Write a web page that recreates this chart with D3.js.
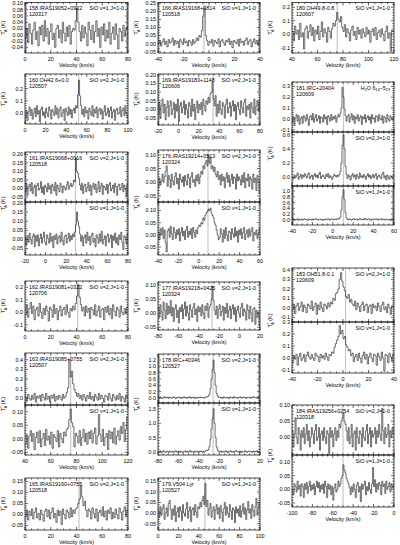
<!DOCTYPE html>
<html>
<head><meta charset="utf-8"></head>
<body style="margin:0;background:#fff">
<svg width="400" height="545"></svg>
</body>
<style>
    text { font-family: "Liberation Sans", Arial, sans-serif; fill: #000; }
</style>

<script src="https://d3js.org/d3.v7.min.js"></script>
<script>
    // spectra, antenna temperature in mK, one value per channel
    var spec158 = [-10,20,-25,35,5,-30,15,40,-15,10, -35,25,0,30,-20,45,-5,20,-30,10, 35,-15,5,-40,20,30,-10,15,-25,40, 5,-20,25,-5,30,-30,10,20,15,45, 85,40,10,-20,30,-10,25,5,-35,40, 15,-15,30,-25,10,45,-5,20,-40,25, 0,35,-20,15,-10,40,-30,5,25,-15, 35,0,-45,20,10,-20,30,-5,15,25];
    var spec160 = [-40,20,-60,10,50,-20,30,-50,0,40, -30,60,-10,20,-70,30,50,-20,10,-40, 40,0,-30,50,20,-50,30,10,-20,60, -10,40,-40,20,50,-30,0,30,-60,40, 10,-20,50,-10,30,-40,20,40,0,60, 40,150,270,140,60,-10,30,-30,50,0, 20,-50,40,10,-20,60,-30,30,0,50, -40,20,40,-10,30,-50,10,60,-20,0, 40,-30,20,50,-40,10,30,-60,20,40, -10,0,50,-30,20,40,-20,60,0,-40];
    var spec161a = [-20,30,-40,10,25,-15,35,-30,5,20, -45,15,30,-10,0,40,-25,10,-35,20, 5,-20,30,-5,15,-30,25,10,-15,35, -40,20,0,-20,30,10,-25,15,5,-10, 20,40,-5,15,30,10,20,50,40,180, 100,90,60,20,-10,30,-30,15,25,-20, 5,35,-15,20,-40,10,30,-5,25,-25, 0,40,-20,10,30,-35,15,5,-10,25, -30,20,35,-15,0,20,-25,30,10,-40, 15,25,-10,5,30,-20,20,-5,-45,25];
    var spec161b = [10,-30,20,-15,35,0,-25,15,30,-40, 20,-10,25,-35,5,30,-20,10,40,-15, -30,25,5,-20,35,-10,15,-45,20,0, 30,-25,10,20,-15,40,-5,-30,15,25, -20,5,35,-10,20,0,30,15,40,80, 150,100,70,30,-10,20,-35,10,25,-20, 40,-5,15,-30,20,35,-15,5,-40,25, 10,-20,30,-10,45,-25,0,20,-35,15, 30,-15,5,25,-45,20,-5,35,-20,10, -30,25,0,40,-15,-55,20,10,-25,30];
    var spec162 = [-20,60,-40,30,80,-10,50,-60,20,40, -30,70,0,-50,30,-20,50,10,-70,40, 20,-40,60,-10,30,-60,10,50,-30,20, 40,-20,60,0,-40,30,10,50,20,70, 130,220,120,60,10,40,-30,50,0,30, -50,40,20,-20,60,-30,10,50,-40,20, 30,-60,40,0,50,-20,30,-50,60,10, -30,40,20,-40,50,0,-20,30,-10,40];
    var spec163a = [10,-30,40,0,-20,30,-10,50,-40,20, 0,30,-30,40,10,-20,50,-10,20,-40, 30,0,40,-30,20,-10,30,10,-20,40, 0,20,60,110,400,220,280,150,90,60, 20,50,0,30,-20,40,10,-30,30,0, 60,-10,20,-30,40,10,-20,50,-10,30, 0,-40,30,20,-20,50,0,-30,40,10, -20,30,-10,50,-30,20,0,-40,30,10];
    var spec163b = [-20,15,-35,10,30,-10,20,-40,5,25, -15,30,-30,0,20,-25,35,-5,10,-20, 25,-35,15,5,-10,30,-30,20,0,-15, 25,10,35,40,70,110,60,45,-30,20, 10,-15,30,-25,5,35,-10,20,-20,25, 0,30,-15,20,40,-20,10,90,15,-10, 35,-25,5,20,-40,30,0,25,-15,40, -20,10,30,-5,45,20,60,-10,35,80];
    var spec165 = [-10,20,-25,15,-5,25,-20,10,30,-15, 5,-25,20,0,-30,15,25,-10,20,-20, 10,30,-15,5,-35,20,-5,15,-45,25, 0,-20,20,10,-15,30,-10,20,5,25, 30,50,70,130,80,40,60,20,-10,25, 15,-20,30,5,-15,25,-30,10,20,-5, 35,-10,15,-25,20,5,30,-20,10,-15, 25,0,-20,30,10,-25,15,35,-10,20];
    var spec166 = [0,20,-15,10,30,-5,15,-20,25,5, 10,35,-10,20,0,15,-25,25,10,-5, 30,5,15,-15,20,10,-10,25,0,15, 35,20,50,40,80,170,220,50,20,-10, 15,5,25,-15,20,10,0,30,-20,15, 25,5,-10,20,10,30,-5,15,-25,20, 10,0,25,-15,30,5,15,-10,20,35, -5,15,25,-20,10,30,0,20,-10,25];
    var spec169 = [-30,40,-50,20,60,-20,30,-60,10,50, -40,20,50,-30,0,40,-50,30,-10,60, -70,20,40,-20,10,50,-30,30,0,-50, 40,20,-40,60,-10,30,-60,10,50,-20, 30,0,40,-30,60,20,-10,50,30,70, 40,90,100,160,60,20,80,-40,30,-20, 50,0,-30,40,20,-50,30,60,-20,10, 40,-40,20,50,-10,30,-60,20,40,0, -30,50,10,-20,40,60,-40,20,0,30, -50,40,10,-20,60,-30,20,50,-10,40];
    var spec176a = [-20,15,-10,5,30,0,20,40,60,-15, 25,10,-20,30,5,-10,20,35,-5,15, -25,30,10,0,20,-15,25,5,-10,30, 15,-20,20,35,0,10,-15,25,5,30, -5,20,40,30,60,50,70,80,60,100, 70,90,50,60,40,55,30,20,40,10, 25,-10,30,5,20,-20,15,35,0,25, -15,10,30,-5,20,15,-25,30,5,20, 10,-10,25,0,35,-20,15,5,30,-15, 20,10,-25,30,0,15,-30,25,5,-40];
    var spec176b = [10,-20,25,0,30,-15,20,-30,-70,15, 25,-10,35,5,-20,30,10,-15,20,0, 25,-25,10,30,-5,15,-20,20,35,-10, 15,0,25,-15,30,10,-10,20,5,30, 40,35,50,45,70,60,80,90,95,105, 100,110,90,80,70,50,40,20,0,-20, -10,25,5,-30,20,-15,30,0,-25,15, 10,-20,25,5,-10,30,-5,15,-30,20, 0,25,-15,10,30,-20,5,20,-10,25, -5,15,30,-25,10,0,20,-15,5,25];
    var spec177 = [20,-15,30,5,-25,40,10,-20,35,-5, 25,0,45,-10,20,-30,15,30,-15,10, -35,20,5,30,-20,15,40,-10,25,0, -25,30,10,-15,20,35,-5,15,-30,25, 5,20,-10,30,0,-20,25,10,35,-15, 20,30,50,95,45,10,-5,25,-20,15, 30,-10,5,25,-25,20,0,35,-15,10, 25,-20,15,30,-5,20,-30,10,25,0, -15,20,35,-10,15,5,-25,30,10,-20, 25,0,-30,15,20,-40,10,-15,5,-45];
    var spec178a = [20,-10,30,0,-20,15,40,-5,10,25, -15,30,5,-10,20,35,0,-25,15,10, 30,-5,20,-20,10,40,0,15,-15,25, 5,35,-10,20,0,30,-20,10,25,-5, 15,30,0,20,10,-10,25,35,30,60, 120,300,600,900,1200,800,400,150,60,20, 30,0,20,-15,35,10,-5,25,15,-20, 30,5,20,-10,40,0,15,25,-15,10, 35,-5,20,0,30,15,-20,25,10,5, 30,-10,20,40,0,15,25,-15,35,10];
    var spec178b = [30,0,40,-20,20,50,10,-10,30,20, -20,40,10,0,30,-10,20,50,0,10, 40,-10,30,10,-20,20,40,0,30,-10, 20,50,0,30,10,-20,40,20,0,30, 10,40,20,-10,30,0,40,60,50,90, 200,450,800,1150,1500,1000,500,180,70,30, 20,40,-10,30,10,0,50,20,-20,30, 10,40,0,20,-10,30,50,10,20,0, 40,-20,30,10,0,50,20,-10,30,40, 10,20,-10,40,0,30,20,50,-10,20];
    var spec179 = [10,-20,30,-10,20,40,-30,0,25,-15, 45,60,15,-30,20,-10,35,-40,5,25, -20,30,10,-35,40,0,-15,20,50,-25, 10,30,-40,15,25,-10,40,5,-20,30, 20,50,30,60,80,40,140,30,60,-10, 20,45,-20,10,30,-30,15,40,-5,25, -25,35,5,-40,20,50,-10,30,0,-20, 40,10,-30,25,15,-45,30,0,20,-15, 35,-20,10,45,-5,25,-30,15,55,0, 20,-25,40,10,-15,30,70,-10,25,50];
    var spec180 = [20,-50,60,0,30,-40,80,-20,10,-110, 40,60,-30,20,70,-10,50,-50,30,0, 60,-40,20,90,-20,40,10,-60,50,20, -30,40,80,60,100,160,110,90,130,50, 20,70,-20,40,10,-50,30,60,-10,20, -40,50,0,30,-30,40,10,-20,50,0, 30,-60,20,40,-10,50,-40,10,30,-20, 40,0,-50,20,60,-30,10,-130,30,20];
    var spec181a = [-30,20,-60,10,40,-20,30,-50,0,20, -40,30,10,-20,40,0,-60,20,30,-10, 50,-30,10,40,-20,0,30,-40,20,10, -30,40,0,20,-50,30,10,-20,40,-10, 20,0,30,-30,10,40,20,50,100,290, 200,90,30,-20,20,40,-30,10,50,-10, 30,-40,20,0,40,-20,10,30,-50,20, 0,40,-30,10,30,-10,20,-40,40,0, 10,-30,30,20,-20,40,0,-10,30,-40, 20,10,-30,40,0,-20,30,10,-10,20];
    var spec181b = [0,-20,30,-10,20,60,-30,10,40,-20, 30,0,50,20,-10,40,60,-20,10,30, -30,20,50,0,30,-10,40,70,-20,10, 30,0,-20,40,10,50,-10,20,0,-30, 10,40,20,0,30,10,40,80,200,450, 600,400,150,40,-20,30,10,-40,20,50, 0,30,-30,40,10,-20,60,0,20,-10, 40,10,-30,20,50,0,30,-20,10,40, -10,20,50,-30,10,30,0,-20,40,70, -10,20,-40,30,0,-30,20,10,-20,30];
    var spec181c = [20,0,30,-10,10,40,-20,20,0,30, -10,20,40,0,10,-20,30,10,20,-10, 30,0,20,40,10,-10,20,30,0,20, -20,10,30,0,20,40,10,-10,30,20, 0,30,20,10,40,20,50,100,350,800, 1050,700,250,60,20,0,30,10,-10,20, 40,0,20,30,-10,10,40,20,0,30, 10,50,20,0,30,40,10,-20,20,30, 0,20,40,10,-10,30,20,0,40,10, 20,-10,30,10,0,20,-20,30,10,0];
    var spec183a = [-20,40,-60,20,50,-30,10,60,-40,30, 0,-50,40,20,-10,70,-30,10,50,-70, 30,-20,60,0,-40,40,20,-10,50,10, 60,40,100,80,150,160,200,300,370,280, 220,180,120,100,140,60,90,40,20,70, -20,50,10,-40,30,60,-30,20,40,-50, 10,30,-60,40,0,20,-30,50,10,-40, 30,60,-20,10,-50,40,0,-70,20,10];
    var spec183b = [-40,20,-10,30,-60,10,40,-20,0,30, -30,20,50,10,-10,30,0,-20,40,20, 10,-30,30,0,20,-10,40,10,-20,30, 20,50,40,90,120,150,180,270,200,230, 160,180,110,90,60,70,20,40,-30,10, 30,-20,40,0,-40,20,50,-10,30,-50, 10,40,0,-30,30,20,-60,40,10,-20, 50,0,-110,30,20,-40,40,10,-30,30];
    var spec184a = [20,-30,10,60,0,-20,30,10,-40,20, 0,30,-20,10,40,-10,20,-30,0,30, 10,-20,20,40,-10,0,30,-40,10,20, -10,30,0,-20,20,10,-50,30,0,20, -30,10,30,-10,20,0,40,30,50,60, 75,50,40,20,-10,30,-20,0,40,-30, 10,20,-40,30,0,-20,20,10,-30,30, 0,-10,20,40,-20,10,30,-30,20,0, 10,30,-20,20,0,40,10,-10,90,20, -20,30,0,10,40,-30,20,0,30,10];
    var spec184b = [0,-20,20,10,-10,30,0,15,-25,20, 10,-30,20,0,25,-15,10,30,-5,15, 0,20,-20,10,30,5,25,-10,15,0, 20,-15,30,10,-30,20,0,15,-20,10, -40,5,20,-10,0,30,10,20,40,50, 90,70,60,40,30,20,5,-20,10,-10, 20,0,-30,15,25,-10,10,-45,20,0, 15,30,-20,10,-5,25,0,-15,20,80, 10,35,-10,20,0,25,15,-20,30,10, 20,-15,30,0,10,25,-10,20,5,15];

    var cols = [{left: 25, right: 128}, {left: 158, right: 260}, {left: 292, right: 394}];

    var groups = [
        {col: 0, x: [0, 80], xt: [0, 20, 40, 60, 80], vline: 40, subs: [
            {top: 2.5, bot: 53, y: [-0.058, 0.103], yt: [-0.04, -0.02, 0, 0.02, 0.04, 0.06, 0.08, 0.10], fmt: ".2f", data: spec158,
             name: "158.IRAS19052+0922", date: "120317", line: "SiO v=1,J=1-0"}]},
        {col: 0, x: [0, 100], xt: [0, 20, 40, 60, 80, 100], vline: 52, subs: [
            {top: 74, bot: 124, y: [-0.09, 0.32], yt: [0, 0.1, 0.2], fmt: ".1f", data: spec160,
             name: "160.OH42.6+0.0", date: "120507", line: "SiO v=2,J=1-0"}]},
        {col: 0, x: [-20, 80], xt: [-20, 0, 20, 40, 60, 80], vline: 29, subs: [
            {top: 152, bot: 202, y: [-0.08, 0.215], yt: [-0.05, 0, 0.05, 0.10, 0.15, 0.20], fmt: ".2f", data: spec161a,
             name: "161.IRAS19068+0016", date: "120518", line: "SiO v=2,J=1-0"},
            {top: 202, bot: 255, y: [-0.085, 0.205], yt: [-0.05, 0, 0.05, 0.10, 0.15, 0.20], fmt: ".2f", data: spec161b,
             line: "SiO v=1,J=1-0"}]},
        {col: 0, x: [0, 80], xt: [0, 20, 40, 60, 80], vline: 41, subs: [
            {top: 281, bot: 331, y: [-0.15, 0.25], yt: [-0.1, 0, 0.1, 0.2], fmt: ".1f", data: spec162,
             name: "162.IRAS19081+0322", date: "120706", line: "SiO v=2,J=1-0"}]},
        {col: 0, x: [40, 120], xt: [40, 60, 80, 100, 120], vline: 75.5, subs: [
            {top: 353, bot: 405, y: [-0.07, 0.47], yt: [0, 0.1, 0.2, 0.3, 0.4], fmt: ".1f", data: spec163a,
             name: "163.IRAS19085+0755", date: "120507", line: "SiO v=2,J=1-0"},
            {top: 405, bot: 455, y: [-0.06, 0.125], yt: [-0.05, 0, 0.05, 0.10], fmt: ".2f", data: spec163b,
             line: "SiO v=1,J=1-0"}]},
        {col: 0, x: [0, 80], xt: [0, 20, 40, 60, 80], vline: 42, subs: [
            {top: 478, bot: 530, y: [-0.07, 0.165], yt: [-0.05, 0, 0.05, 0.10, 0.15], fmt: ".2f", data: spec165,
             name: "165.IRAS19160+0755", date: "120518", line: "SiO v=2,J=1-0"}]},

        {col: 1, x: [-40, 40], xt: [-40, -20, 0, 20, 40], vline: -4, subs: [
            {top: 2.5, bot: 53, y: [-0.058, 0.255], yt: [-0.05, 0, 0.05, 0.10, 0.15, 0.20, 0.25], fmt: ".2f", data: spec166,
             name: "166.IRAS19168+0814", date: "120518", line: "SiO v=1,J=1-0"}]},
        {col: 1, x: [-20, 80], xt: [-20, 0, 20, 40, 60, 80], vline: 34, subs: [
            {top: 74, bot: 125, y: [-0.09, 0.205], yt: [-0.05, 0, 0.05, 0.10, 0.15, 0.20], fmt: ".2f", data: spec169,
             name: "169.IRAS19183+1148", date: "120606", line: "SiO v=2,J=1-0"}]},
        {col: 1, x: [-40, 60], xt: [-40, -20, 0, 20, 40, 60], vline: 9, subs: [
            {top: 150, bot: 202, y: [-0.072, 0.118], yt: [-0.05, 0, 0.05, 0.10], fmt: ".2f", data: spec176a,
             name: "176.IRAS19214+0513", date: "120324", line: "SiO v=2,J=1-0"},
            {top: 202, bot: 255, y: [-0.083, 0.135], yt: [-0.05, 0, 0.05, 0.10], fmt: ".2f", data: spec176b,
             line: "SiO v=1,J=1-0"}]},
        {col: 1, x: [-80, 20], xt: [-80, -60, -40, -20, 0, 20], vline: -27, subs: [
            {top: 282, bot: 330, y: [-0.06, 0.111], yt: [-0.05, 0, 0.05, 0.10], fmt: ".2f", data: spec177,
             name: "177.IRAS19218+0425", date: "120324", line: "SiO v=2,J=1-0"}]},
        {col: 1, x: [-80, 20], xt: [-80, -60, -40, -20, 0, 20], vline: -26, subs: [
            {top: 354, bot: 403, y: [-0.16, 1.39], yt: [0, 0.2, 0.4, 0.6, 0.8, 1.0, 1.2], fmt: ".1f", data: spec178a,
             name: "178.IRC+40346", date: "120527", line: "SiO v=2,J=1-0"},
            {top: 403, bot: 455, y: [-0.1, 1.7], yt: [0, 0.5, 1.0, 1.5], fmt: ".1f", data: spec178b,
             line: "SiO v=1,J=1-0"}]},
        {col: 1, x: [0, 100], xt: [0, 20, 40, 60, 80, 100], vline: 46, subs: [
            {top: 478, bot: 530, y: [-0.08, 0.166], yt: [-0.05, 0, 0.05, 0.10, 0.15], fmt: ".2f", data: spec179,
             name: "179.V504 Lyr", date: "120527", line: "SiO v=1,J=1-0"}]},

        {col: 2, x: [40, 120], xt: [40, 60, 80, 100, 120], vline: 75.5, subs: [
            {top: 2.5, bot: 53, y: [-0.14, 0.235], yt: [-0.1, 0, 0.1, 0.2], fmt: ".1f", data: spec180,
             name: "180.OH49.8-0.8", date: "120607", line: "SiO v=1,J=1-0"}]},
        {col: 2, x: [-40, 60], xt: [-40, -20, 0, 20, 40, 60], vline: 10.5, subs: [
            {top: 82, bot: 132, y: [-0.12, 0.34], yt: [-0.1, 0, 0.1, 0.2, 0.3], fmt: ".1f", data: spec181a,
             name: "181.IRC+20404", date: "120609", line: "H2O"},
            {top: 132, bot: 186, y: [-0.125, 0.64], yt: [0, 0.2, 0.4, 0.6], fmt: ".1f", data: spec181b,
             line: "SiO v=2,J=1-0"},
            {top: 186, bot: 225, y: [-0.18, 1.18], yt: [0, 0.2, 0.4, 0.6, 0.8, 1.0], fmt: ".1f", data: spec181c,
             line: "SiO v=1,J=1-0"}]},
        {col: 2, x: [-40, 40], xt: [-40, -20, 0, 20, 40], vline: 2, subs: [
            {top: 268, bot: 322, y: [-0.15, 0.42], yt: [-0.1, 0, 0.1, 0.2, 0.3, 0.4], fmt: ".1f", data: spec183a,
             name: "183.OH51.8-0.1", date: "120609", line: "SiO v=2,J=1-0"},
            {top: 322, bot: 373, y: [-0.125, 0.30], yt: [-0.1, 0, 0.1, 0.2, 0.3], fmt: ".1f", data: spec183b,
             line: "SiO v=1,J=1-0"}]},
        {col: 2, x: [-100, 0], xt: [-100, -80, -60, -40, -20, 0], vline: -50, subs: [
            {top: 405, bot: 455, y: [-0.055, 0.10], yt: [0, 0.05, 0.10], fmt: ".2f", data: spec184a,
             name: "184.IRAS19256+0254", date: "120318", line: "SiO v=2,J=1-0"},
            {top: 455, bot: 507, y: [-0.065, 0.126], yt: [-0.05, 0, 0.05, 0.10], fmt: ".2f", data: spec184b,
             line: "SiO v=1,J=1-0"}]}
    ];

    var svg = d3.select("svg");
    var fs = 5.4;
    var clipId = 0;

    function fmtNum(f, v) {
        return d3.format(f)(v).replace(/\u2212/g, "-");
    }

    groups.forEach(function(p) {
        var c = cols[p.col];
        var g = svg.append("g");
        var x = d3.scaleLinear().domain(p.x).range([c.left, c.right]);
        var xMinor = d3.range(p.x[0], p.x[1] + 0.001, (p.xt[1] - p.xt[0]) / 4);

        p.subs.forEach(function(s, k) {
            var y = d3.scaleLinear().domain(s.y).range([s.bot, s.top]);
            var id = "clip" + (clipId++);
            g.append("clipPath").attr("id", id).append("rect")
                .attr("x", c.left).attr("y", s.top)
                .attr("width", c.right - c.left).attr("height", s.bot - s.top);
            var inner = g.append("g").attr("clip-path", "url(#" + id + ")");

            // systemic velocity marker
            inner.append("line")
                .attr("x1", x(p.vline)).attr("x2", x(p.vline))
                .attr("y1", s.top).attr("y2", s.bot)
                .attr("stroke", "#c8c8c8").attr("stroke-width", 1.2);

            var n = s.data.length, dv = (p.x[1] - p.x[0]) / n;
            var pts = s.data.map(function(d, i) { return [p.x[0] + i * dv, d / 1000]; });
            pts.push([p.x[1], s.data[n - 1] / 1000]);
            inner.append("path")
                .datum(pts)
                .attr("fill", "none")
                .attr("stroke", "#111")
                .attr("stroke-width", 0.6)
                .attr("d", d3.line().curve(d3.curveStepAfter)
                    .x(function(d) { return x(d[0]); })
                    .y(function(d) { return y(d[1]); }));

            // box
            g.append("rect")
                .attr("x", c.left).attr("y", s.top)
                .attr("width", c.right - c.left).attr("height", s.bot - s.top)
                .attr("fill", "none").attr("stroke", "#000").attr("stroke-width", 0.7);

            // x ticks on bottom and top
            var tk = g.append("g").attr("stroke", "#000").attr("stroke-width", 0.6);
            xMinor.forEach(function(v) {
                var major = p.xt.some(function(t) { return Math.abs(t - v) < 1e-6; });
                var L = major ? 3 : 1.6;
                tk.append("line").attr("x1", x(v)).attr("x2", x(v)).attr("y1", s.bot).attr("y2", s.bot - L);
                tk.append("line").attr("x1", x(v)).attr("x2", x(v)).attr("y1", s.top).attr("y2", s.top + L);
            });
            // y ticks on left and right
            var ys = s.yt[1] - s.yt[0], ym = ys / 5;
            var yMinor = d3.range(Math.ceil(s.y[0] / ym - 1e-6) * ym, s.y[1] + 1e-9, ym);
            yMinor.forEach(function(v) {
                var major = s.yt.some(function(t) { return Math.abs(t - v) < 1e-6; });
                var L = major ? 3 : 1.6;
                tk.append("line").attr("x1", c.left).attr("x2", c.left + L).attr("y1", y(v)).attr("y2", y(v));
                tk.append("line").attr("x1", c.right).attr("x2", c.right - L).attr("y1", y(v)).attr("y2", y(v));
            });
            s.yt.forEach(function(v) {
                g.append("text")
                    .attr("x", c.left - 2).attr("y", y(v)).attr("dy", "0.35em")
                    .attr("text-anchor", "end").attr("font-size", fs)
                    .text(fmtNum(s.fmt, v));
            });

            // panel labels
            if (s.name) {
                g.append("text").attr("x", c.left + 4).attr("y", s.top + 7.5)
                    .attr("font-size", fs).text(s.name);
                g.append("text").attr("x", c.left + 4).attr("y", s.top + 13.5)
                    .attr("font-size", fs).text(s.date);
            }
            if (s.line == "H2O") {
                var t = g.append("text").attr("x", c.right - 4).attr("y", s.top + 7.5)
                    .attr("text-anchor", "end").attr("font-size", fs);
                t.append("tspan").text("H");
                t.append("tspan").attr("font-size", 3.8).attr("dy", 1.2).text("2");
                t.append("tspan").attr("dy", -1.2).text("O 6");
                t.append("tspan").attr("font-size", 3.8).attr("dy", 1.2).text("16");
                t.append("tspan").attr("dy", -1.2).text("\u20135");
                t.append("tspan").attr("font-size", 3.8).attr("dy", 1.2).text("23");
            } else {
                g.append("text").attr("x", c.right - 4).attr("y", s.top + 7.5)
                    .attr("text-anchor", "end").attr("font-size", fs).text(s.line);
            }

            if (k == p.subs.length - 1) {
                p.xt.forEach(function(v) {
                    g.append("text")
                        .attr("x", x(v)).attr("y", s.bot + 8)
                        .attr("text-anchor", "middle").attr("font-size", fs)
                        .text(fmtNum("d", v));
                });
                g.append("text")
                    .attr("x", (c.left + c.right) / 2).attr("y", s.bot + 14)
                    .attr("text-anchor", "middle").attr("font-size", fs)
                    .text("Velocity (km/s)");
            }
        });

        // y axis title
        var top = p.subs[0].top, bot = p.subs[p.subs.length - 1].bot;
        var yt = g.append("text")
            .attr("transform", "translate(" + (c.left - 20) + "," + ((top + bot) / 2) + ") rotate(-90)")
            .attr("text-anchor", "middle").attr("font-size", fs);
        yt.append("tspan").text("T");
        yt.append("tspan").attr("font-size", 3.8).attr("dy", -2).text("*");
        yt.append("tspan").attr("font-size", 3.8).attr("dx", -2).attr("dy", 3.5).text("A");
        yt.append("tspan").attr("dy", -1.5).text(" (K)");
    });
</script>
</html>
